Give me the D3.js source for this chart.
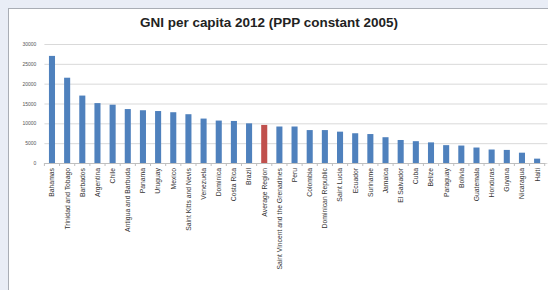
<!DOCTYPE html>
<html><head><meta charset="utf-8">
<script src="https://cdn.jsdelivr.net/npm/d3@7"></script>
<style>html,body{margin:0;padding:0;background:#e9edf6;}svg{display:block;}</style>
</head><body>
<svg id="c" width="548" height="290"></svg>
<script>
const categories = ["Bahamas","Trinidad and Tobago","Barbados","Argentina","Chile","Antigua and Barbuda","Panama","Uruguay","Mexico","Saint Kitts and Nevis","Venezuela","Dominica","Costa Rica","Brazil","Average Region","Saint Vincent and the Grenadines","Peru","Colombia","Dominican Republic","Saint Lucia","Ecuador","Suriname","Jamaica","El Salvador","Cuba","Belize","Paraguay","Bolivia","Guatemala","Honduras","Guyana","Nicaragua","Haiti"];
const values = [27000,21500,17000,15100,14700,13600,13300,13100,12800,12300,11200,10700,10600,10000,9600,9200,9200,8300,8300,7900,7500,7300,6500,5800,5500,5200,4500,4400,3900,3400,3300,2600,1100];
const highlight = ["Average Region"];
const yTicks = [0,5000,10000,15000,20000,25000,30000];
const title = "GNI per capita 2012 (PPP constant 2005)";

const svg = d3.select("#c");
svg.append("rect").attr("x",8.5).attr("y",8.5).attr("width",545).attr("height",290).attr("fill","#fff").attr("stroke","#a9adb5");

const x = d3.scaleBand().domain(categories).range([44.4,544.7]).paddingInner(0.6).paddingOuter(0.3);
const y = d3.scaleLinear().domain([0,30000]).range([163,44]);

svg.append("text").attr("x",269).attr("y",26.5).attr("text-anchor","middle")
  .attr("font-family","Liberation Sans, Arial, sans-serif").attr("font-weight","bold").attr("font-size",12.5)
  .attr("textLength",258).attr("lengthAdjust","spacingAndGlyphs")
  .attr("fill","#222").text(title);

const ya = svg.append("g").attr("transform","translate(44.4,0)")
  .call(d3.axisLeft(y).tickValues(yTicks).tickSize(-503).tickPadding(8).tickFormat(d3.format("d")));
ya.select(".domain").remove();
ya.selectAll(".tick line").attr("stroke","#d9d9d9");
ya.selectAll(".tick text").attr("font-size",5).attr("fill","#555").attr("font-family","Liberation Sans, Arial, sans-serif");

svg.append("g").selectAll("rect").data(categories).join("rect")
  .attr("x",d=>x(d)).attr("width",x.bandwidth())
  .attr("y",(d,i)=>y(values[i])).attr("height",(d,i)=>y(0)-y(values[i]))
  .attr("fill",d=>highlight.includes(d)?"#c0504d":"#4f81bd");

const xa = svg.append("g").attr("transform","translate(0,163)")
  .call(d3.axisBottom(x).tickSize(0).tickPadding(0));
xa.select(".domain").attr("stroke","#bfbfbf");
xa.selectAll(".tick text").attr("font-size",6.8).attr("fill","#333")
  .attr("font-family","Liberation Sans, Arial, sans-serif")
  .attr("text-anchor","end").attr("dy","0.35em")
  .attr("transform","translate(0,5) rotate(-90)").attr("x",0).attr("y",0);
svg.append("g").selectAll("line").data(d3.range(categories.length+1)).join("line")
  .attr("x1",i=>44.4+i*x.step()).attr("x2",i=>44.4+i*x.step())
  .attr("y1",163).attr("y2",166).attr("stroke","#bfbfbf");
</script>
</body></html>
